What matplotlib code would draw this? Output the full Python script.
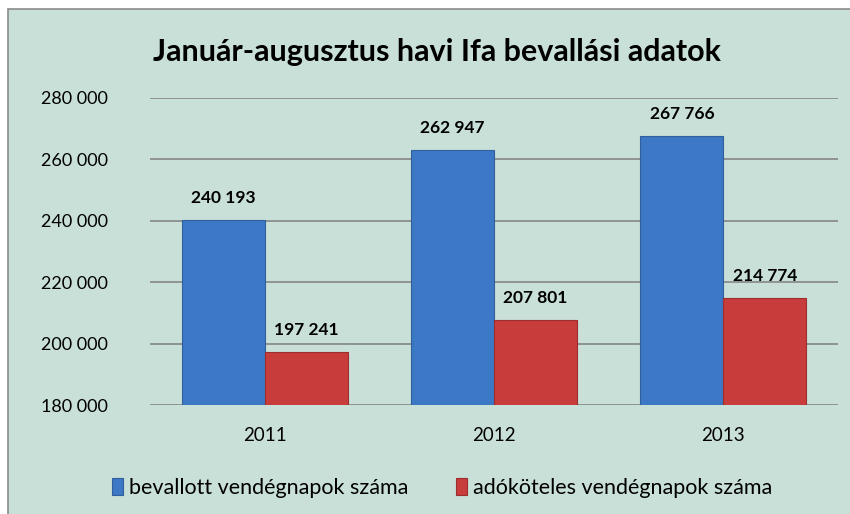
import numpy as np
import matplotlib
matplotlib.use('Agg')
import matplotlib.pyplot as plt
from matplotlib.patches import Rectangle

#Data
years = ['2011', '2012', '2013']
bevallott = [240193, 262947, 267766]
adokoteles = [197241, 207801, 214774]
series_names = ['bevallott vendégnapok száma', 'adóköteles vendégnapok száma']
yticks = [180000, 200000, 220000, 240000, 260000, 280000]

bg = '#c9e0d8'
blue = '#3d78c6'
red = '#c93c3c'

plt.rcParams['font.family'] = ['Lato', 'DejaVu Sans']

fig = plt.figure(figsize=(8.5, 5.14), dpi=100)
fig.patch.set_facecolor('white')
# chart area box (runs off right and bottom edge)
box = Rectangle((8 / 850, -0.1), 1.2, 1.1 - 9 / 514, transform=fig.transFigure,
                facecolor=bg, edgecolor='#8a8a8a', linewidth=1.2, zorder=-5)
fig.add_artist(box)

ax = fig.add_axes([150 / 850, 1 - 405 / 514, 688 / 850, 307 / 514])
ax.set_facecolor('none')
ax.set_zorder(1)

x = np.arange(len(years))
w = 0.362
b1 = ax.bar(x - w / 2, np.array(bevallott) - 180000, w, bottom=180000, color=blue,
            edgecolor='#2f5f9e', linewidth=0.8, zorder=3)
b2 = ax.bar(x + w / 2, np.array(adokoteles) - 180000, w, bottom=180000, color=red,
            edgecolor='#9c2e2e', linewidth=0.8, zorder=3)

def fmt(v):
    return f'{v:,}'.replace(',', ' ')

for bars, vals in ((b1, bevallott), (b2, adokoteles)):
    for rect, v in zip(bars, vals):
        ax.annotate(fmt(v), (rect.get_x() + rect.get_width() / 2, v),
                    xytext=(0, 10), textcoords='offset points', ha='center', va='bottom',
                    fontsize=12.5, fontweight='bold', color='black')

ax.set_xlim(-0.5, 2.5)
ax.set_ylim(180000, 280000)
ax.set_yticks(yticks)
ax.set_yticklabels([fmt(t) for t in yticks], fontsize=13)
ax.set_xticks(x)
ax.set_xticklabels(years, fontsize=13.5)
ax.tick_params(axis='both', length=0)
ax.tick_params(axis='y', pad=30)
ax.tick_params(axis='x', pad=16)
ax.grid(axis='y', color='#858585', linewidth=1.2, zorder=1)
for s in ax.spines.values():
    s.set_visible(False)

fig.text(437 / 850, 1 - 52 / 514, 'Január-augusztus havi Ifa bevallási adatok',
         ha='center', va='center', fontsize=22, fontweight='bold')

leg = fig.legend([b1, b2], series_names, loc='center', bbox_to_anchor=(442 / 850, 1 - 488 / 514),
                 ncol=2, frameon=False, fontsize=15.5, handlelength=0.5, handleheight=0.8,
                 handletextpad=0.3, columnspacing=2.2)

fig.savefig('out.png', dpi=100, facecolor=fig.get_facecolor())
